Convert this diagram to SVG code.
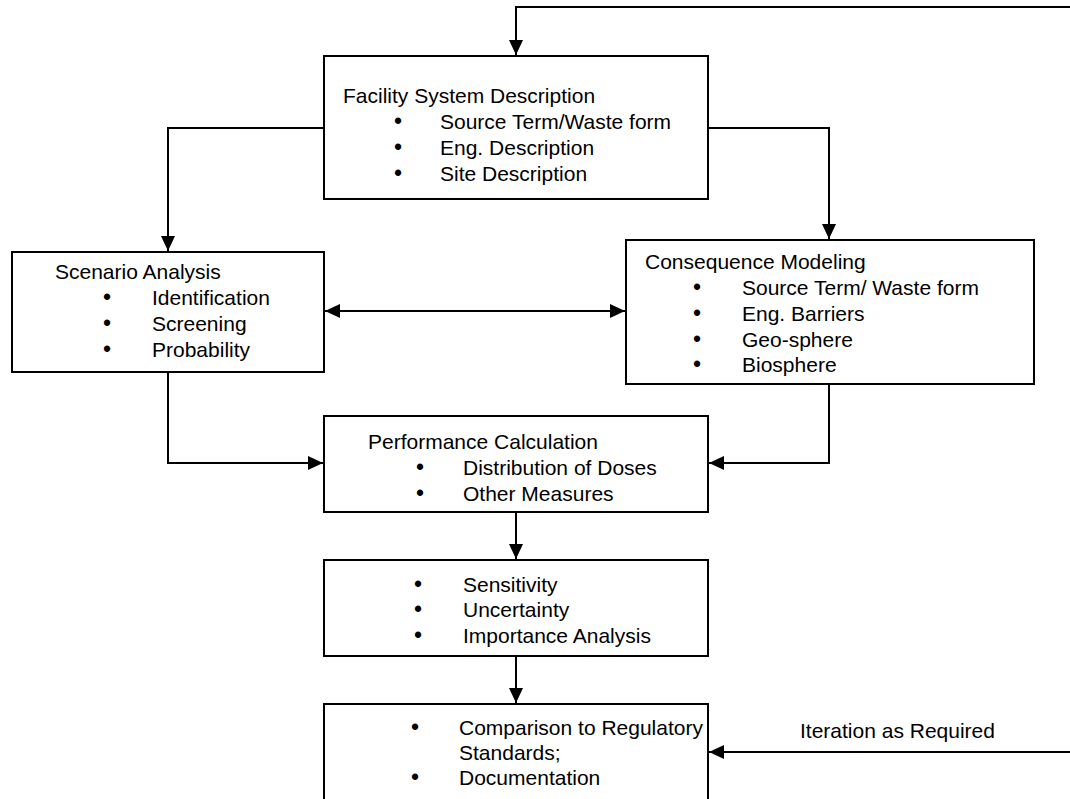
<svg xmlns="http://www.w3.org/2000/svg" width="1070" height="799" viewBox="0 0 1070 799">
<defs>
<style>
.box{fill:#fff;stroke:#000;stroke-width:2}
.t{font-family:"Liberation Sans",Arial,sans-serif;font-size:21px;fill:#000}
.b{font-family:"Liberation Sans",Arial,sans-serif;font-size:23px;fill:#000;text-anchor:middle}
.c{fill:none;stroke:#000;stroke-width:2}
</style>
<marker id="ah" markerUnits="userSpaceOnUse" markerWidth="16" markerHeight="14" refX="15" refY="7" orient="auto-start-reverse">
<path d="M0,0 L15,7 L0,14 z" fill="#000"/>
</marker>
</defs>
<rect width="1070" height="799" fill="#fff"/>
<g id="connectors">
<polyline class="c" points="1070,7 516,7 516,55" marker-end="url(#ah)"/>
<polyline class="c" points="324,128 168,128 168,251" marker-end="url(#ah)"/>
<polyline class="c" points="708,128 829,128 829,239" marker-end="url(#ah)"/>
<line class="c" x1="325" y1="311" x2="625" y2="311" marker-start="url(#ah)" marker-end="url(#ah)"/>
<polyline class="c" points="168,372 168,463 323,463" marker-end="url(#ah)"/>
<polyline class="c" points="829,384 829,463 709,463" marker-end="url(#ah)"/>
<line class="c" x1="516" y1="512" x2="516" y2="559" marker-end="url(#ah)"/>
<line class="c" x1="516" y1="656" x2="516" y2="703" marker-end="url(#ah)"/>
<line class="c" x1="1070" y1="752" x2="709" y2="752" marker-end="url(#ah)"/>
<text class="t" x="800" y="738">Iteration as Required</text>
</g>
<g id="facility">
<rect class="box" x="324" y="56" width="384" height="143"/>
<text class="t" x="343" y="103">Facility System Description</text>
<text class="b" x="398" y="129">•</text><text class="t" x="440" y="129">Source Term/Waste form</text>
<text class="b" x="398" y="155">•</text><text class="t" x="440" y="155">Eng. Description</text>
<text class="b" x="398" y="181">•</text><text class="t" x="440" y="181">Site Description</text>
</g>
<g id="scenario">
<rect class="box" x="12" y="252" width="312" height="120"/>
<text class="t" x="55" y="279">Scenario Analysis</text>
<text class="b" x="107" y="305">•</text><text class="t" x="152" y="305">Identification</text>
<text class="b" x="107" y="331">•</text><text class="t" x="152" y="331">Screening</text>
<text class="b" x="107" y="357">•</text><text class="t" x="152" y="357">Probability</text>
</g>
<g id="consequence">
<rect class="box" x="626" y="240" width="408" height="144"/>
<text class="t" x="645" y="269">Consequence Modeling</text>
<text class="b" x="697" y="295">•</text><text class="t" x="742" y="295">Source Term/ Waste form</text>
<text class="b" x="697" y="321">•</text><text class="t" x="742" y="321">Eng. Barriers</text>
<text class="b" x="697" y="347">•</text><text class="t" x="742" y="347">Geo-sphere</text>
<text class="b" x="697" y="372">•</text><text class="t" x="742" y="372">Biosphere</text>
</g>
<g id="performance">
<rect class="box" x="324" y="416" width="384" height="96"/>
<text class="t" x="368" y="449">Performance Calculation</text>
<text class="b" x="420" y="475">•</text><text class="t" x="463" y="475">Distribution of Doses</text>
<text class="b" x="420" y="501">•</text><text class="t" x="463" y="501">Other Measures</text>
</g>
<g id="sensitivity">
<rect class="box" x="324" y="560" width="384" height="96"/>
<text class="b" x="418" y="592">•</text><text class="t" x="463" y="592">Sensitivity</text>
<text class="b" x="418" y="617">•</text><text class="t" x="463" y="617">Uncertainty</text>
<text class="b" x="418" y="643">•</text><text class="t" x="463" y="643">Importance Analysis</text>
</g>
<g id="comparison">
<rect class="box" x="324" y="704" width="384" height="110"/>
<text class="b" x="415" y="735">•</text><text class="t" x="459" y="735">Comparison to Regulatory</text>
<text class="t" x="459" y="760">Standards;</text>
<text class="b" x="415" y="785">•</text><text class="t" x="459" y="785">Documentation</text>
</g>
</svg>
